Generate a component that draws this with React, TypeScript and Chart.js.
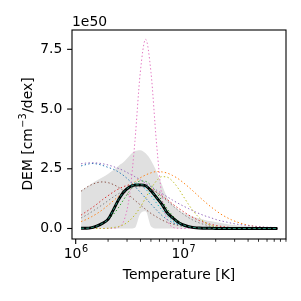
import React, { useEffect, useRef } from "react";
import { Chart, registerables } from "chart.js";

Chart.register(...registerables);

// x grid: log10(Temperature [K])
const logT = [6.05, 6.10, 6.15, 6.20, 6.25, 6.30, 6.35, 6.40, 6.45, 6.50,
  6.55, 6.60, 6.65, 6.70, 6.75, 6.80, 6.85, 6.90, 6.95, 7.00,
  7.05, 7.10, 7.15, 7.20, 7.25, 7.30, 7.35, 7.40, 7.45, 7.50,
  7.55, 7.60, 7.65, 7.70, 7.75, 7.80, 7.875];

// DEM values in units of 1e50 cm^-3/dex
const bandHigh = [1.60, 1.72, 1.88, 2.02, 2.14, 2.28, 2.45, 2.63, 2.80, 3.05,
  3.24, 3.28, 3.15, 2.85, 2.40, 1.85, 1.30, 1.00, 0.80, 0.66,
  0.56, 0.48, 0.42, 0.36, 0.31, 0.27, 0.23, 0.19, 0.16, 0.13,
  0.11, 0.09, 0.07, 0.06, 0.05, 0.04, 0.03];
const bandLow = [0, 0, 0, 0, 0, 0, 0, 0, 0, 0,
  0.03, 0.62, 0.72, 0.08, 0, 0, 0, 0, 0, 0,
  0, 0, 0, 0, 0, 0, 0, 0, 0, 0,
  0, 0, 0, 0, 0, 0, 0];
const meanDem = [0.01, 0.01, 0.04, 0.11, 0.22, 0.38, 0.78, 1.22, 1.55, 1.74,
  1.82, 1.83, 1.79, 1.58, 1.30, 1.02, 0.66, 0.45, 0.27, 0.15,
  0.08, 0.04, 0.02, 0.01, 0.01, 0, 0, 0, 0, 0,
  0, 0, 0, 0, 0, 0, 0];
const fitDem = [0.01, 0.01, 0.04, 0.11, 0.22, 0.38, 0.78, 1.22, 1.55, 1.74,
  1.82, 1.83, 1.79, 1.58, 1.30, 1.02, 0.66, 0.45, 0.27, 0.15,
  0.08, 0.04, 0.02, 0.01, 0.01, 0, 0, 0, 0, 0,
  0, 0, 0, 0, 0, 0, 0];

const sampleBlue = [2.62, 2.68, 2.72, 2.70, 2.64, 2.56, 2.48, 2.36, 2.20, 2.00,
  1.76, 1.52, 1.27, 1.02, 0.78, 0.55, 0.38, 0.25, 0.16, 0.10,
  0.06, 0.04, 0.02, 0.01, 0.01, 0, 0, 0, 0, 0,
  0, 0, 0, 0, 0, 0, 0];
const sampleOrange = [0.29, 0.38, 0.50, 0.63, 0.79, 0.97, 1.16, 1.36, 1.57, 1.77,
  1.95, 2.12, 2.24, 2.33, 2.38, 2.37, 2.32, 2.22, 2.09, 1.92,
  1.73, 1.53, 1.32, 1.12, 0.93, 0.76, 0.60, 0.47, 0.36, 0.27,
  0.20, 0.14, 0.10, 0.07, 0.05, 0.03, 0.02];
const sampleGreen = [0.01, 0.02, 0.05, 0.11, 0.20, 0.36, 0.59, 0.89, 1.24, 1.57,
  1.84, 1.99, 1.97, 1.80, 1.51, 1.17, 0.83, 0.54, 0.33, 0.18,
  0.09, 0.04, 0.02, 0.01, 0, 0, 0, 0, 0, 0,
  0, 0, 0, 0, 0, 0, 0];
const sampleRed = [0.56, 0.71, 0.86, 1.03, 1.21, 1.37, 1.53, 1.66, 1.76, 1.83,
  1.85, 1.83, 1.76, 1.66, 1.53, 1.37, 1.21, 1.03, 0.86, 0.71,
  0.56, 0.44, 0.33, 0.25, 0.18, 0.13, 0.09, 0.06, 0.04, 0.03,
  0.02, 0.01, 0.01, 0, 0, 0, 0];
const samplePurple = [2.71, 2.74, 2.75, 2.74, 2.71, 2.66, 2.59, 2.51, 2.41, 2.29,
  2.17, 2.04, 1.90, 1.75, 1.61, 1.47, 1.33, 1.19, 1.06, 0.94,
  0.83, 0.72, 0.62, 0.53, 0.46, 0.38, 0.32, 0.27, 0.22, 0.18,
  0.15, 0.12, 0.10, 0.08, 0.06, 0.05, 0.04];
const sampleBrown = [1.56, 1.72, 1.84, 1.92, 1.95, 1.92, 1.84, 1.72, 1.56, 1.38,
  1.18, 0.99, 0.80, 0.63, 0.49, 0.36, 0.26, 0.19, 0.13, 0.09,
  0.06, 0.04, 0.02, 0.01, 0, 0, 0, 0, 0, 0,
  0, 0, 0, 0, 0, 0, 0];
const samplePink = [0, 0, 0, 0, 0, 0, 0.01, 0.06, 0.35, 1.37,
  3.63, 6.52, 7.92, 6.52, 3.63, 1.37, 0.35, 0.06, 0.01, 0,
  0, 0, 0, 0, 0, 0, 0, 0, 0, 0,
  0, 0, 0, 0, 0, 0, 0];
const sampleGray = [0.44, 0.56, 0.70, 0.85, 1.00, 1.16, 1.32, 1.46, 1.58, 1.67,
  1.73, 1.75, 1.72, 1.64, 1.51, 1.34, 1.15, 0.96, 0.77, 0.60,
  0.45, 0.33, 0.23, 0.16, 0.10, 0.07, 0.04, 0.02, 0.01, 0.01,
  0, 0, 0, 0, 0, 0, 0];
const sampleOlive = [0, 0, 0, 0, 0, 0.01, 0.04, 0.08, 0.17, 0.33,
  0.57, 0.89, 1.28, 1.67, 1.99, 2.17, 2.15, 1.98, 1.70, 1.35,
  1.00, 0.69, 0.44, 0.26, 0.14, 0.07, 0.03, 0.01, 0, 0,
  0, 0, 0, 0, 0, 0, 0];
const sampleCyan = [0.01, 0.02, 0.05, 0.11, 0.23, 0.44, 0.75, 1.13, 1.50, 1.79,
  1.90, 1.83, 1.65, 1.38, 1.07, 0.78, 0.53, 0.33, 0.19, 0.11,
  0.05, 0.03, 0.01, 0, 0, 0, 0, 0, 0, 0,
  0, 0, 0, 0, 0, 0, 0];

const samples = [sampleBlue, sampleOrange, sampleGreen, sampleRed, samplePurple,
  sampleBrown, samplePink, sampleGray, sampleOlive, sampleCyan];
const sampleColors = ["#1f77b4", "#ff7f0e", "#2ca02c", "#d62728", "#9467bd",
  "#8c564b", "#e377c2", "#7f7f7f", "#bcbd22", "#17becf"];

const yTicks = [0, 2.5, 5.0, 7.5];
const yTickLabels = ["0.0", "2.5", "5.0", "7.5"];
const xMajorTicks = [1e6, 1e7];
const xMajorExp = ["6", "7"];
const xMinorTicks = [2e6, 3e6, 4e6, 5e6, 6e6, 7e6, 8e6, 9e6, 2e7, 3e7, 4e7, 5e7, 6e7, 7e7, 8e7, 9e7];
const xTitle = "Temperature [K]";
const offsetText = "1e50";

const FONT = '"DejaVu Sans", sans-serif';

const axesPlugin = {
  id: "mplAxes",
  afterDraw(chart: any) {
    const { ctx, chartArea: a, scales } = chart;
    const xs = scales.x;
    const ys = scales.y;
    ctx.save();
    ctx.strokeStyle = "#000";
    ctx.fillStyle = "#000";
    ctx.lineWidth = 1.1;
    ctx.strokeRect(a.left, a.top, a.right - a.left, a.bottom - a.top);

    const line = (x1: number, y1: number, x2: number, y2: number) => {
      ctx.beginPath();
      ctx.moveTo(x1, y1);
      ctx.lineTo(x2, y2);
      ctx.stroke();
    };

    // y ticks
    ctx.font = `13.9px ${FONT}`;
    ctx.textAlign = "right";
    ctx.textBaseline = "middle";
    yTicks.forEach((v, i) => {
      const y = ys.getPixelForValue(v);
      line(a.left - 4.9, y, a.left, y);
      ctx.fillText(yTickLabels[i], a.left - 9.7, y);
    });

    // x minor ticks
    ctx.lineWidth = 0.8;
    xMinorTicks.forEach((v) => {
      const x = xs.getPixelForValue(v);
      if (x < a.left - 0.5 || x > a.right + 0.5) return;
      line(x, a.bottom, x, a.bottom + 2.8);
    });
    // x major ticks
    ctx.lineWidth = 1.1;
    ctx.textBaseline = "alphabetic";
    ctx.textAlign = "left";
    xMajorTicks.forEach((v, i) => {
      const x = xs.getPixelForValue(v);
      line(x, a.bottom, x, a.bottom + 4.9);
      ctx.font = `13.9px ${FONT}`;
      const w1 = ctx.measureText("10").width;
      ctx.font = `9.7px ${FONT}`;
      const w2 = ctx.measureText(xMajorExp[i]).width;
      const x0 = x - (w1 + w2) / 2;
      ctx.font = `13.9px ${FONT}`;
      ctx.fillText("10", x0, a.bottom + 18.5);
      ctx.font = `9.7px ${FONT}`;
      ctx.fillText(xMajorExp[i], x0 + w1 + 0.5, a.bottom + 12.5);
    });

    // x title
    ctx.font = `13.9px ${FONT}`;
    ctx.textAlign = "center";
    ctx.fillText(xTitle, (a.left + a.right) / 2, a.bottom + 39.5);

    // offset text
    ctx.textAlign = "left";
    ctx.fillText(offsetText, a.left, a.top - 4.5);

    // y title (rotated) : DEM [cm^-3/dex]
    ctx.save();
    ctx.translate(31.5, (a.top + a.bottom) / 2);
    ctx.rotate(-Math.PI / 2);
    ctx.font = `13.9px ${FONT}`;
    const p1 = "DEM [cm";
    const p3 = "/dex]";
    const w1 = ctx.measureText(p1).width;
    const w3 = ctx.measureText(p3).width;
    ctx.font = `9.7px ${FONT}`;
    const p2 = "\u22123";
    const w2 = ctx.measureText(p2).width;
    const start = -(w1 + w2 + w3) / 2;
    ctx.font = `13.9px ${FONT}`;
    ctx.fillText(p1, start, 0);
    ctx.font = `9.7px ${FONT}`;
    ctx.fillText(p2, start + w1 + 0.5, -5.5);
    ctx.font = `13.9px ${FONT}`;
    ctx.fillText(p3, start + w1 + w2 + 1, 0);
    ctx.restore();

    ctx.restore();
  },
};

export default function App() {
  const ref = useRef<HTMLCanvasElement>(null);

  useEffect(() => {
    document.body.style.margin = "0";
    const T = logT.map((v) => Math.pow(10, v));
    const pts = (ys: number[]) => ys.map((y, i) => ({ x: T[i], y }));

    const datasets: any[] = [];
    datasets.push({
      data: pts(bandHigh),
      borderWidth: 0,
      borderColor: "rgba(0,0,0,0)",
      backgroundColor: "rgb(224,224,224)",
      fill: "+1",
      pointRadius: 0,
      cubicInterpolationMode: "monotone",
      order: 100,
    });
    datasets.push({
      data: pts(bandLow),
      borderWidth: 0,
      borderColor: "rgba(0,0,0,0)",
      fill: false,
      pointRadius: 0,
      cubicInterpolationMode: "monotone",
      order: 99,
    });
    samples.forEach((s, i) => {
      datasets.push({
        data: pts(s),
        borderColor: sampleColors[i],
        borderWidth: 1,
        borderDash: [1.4, 2.3],
        fill: false,
        pointRadius: 0,
        cubicInterpolationMode: "monotone",
        order: 50 - i,
      });
    });
    datasets.push({
      data: pts(meanDem),
      borderColor: "#000000",
      borderWidth: 2.8,
      fill: false,
      pointRadius: 0,
      cubicInterpolationMode: "monotone",
      order: 2,
    });
    datasets.push({
      data: pts(fitDem),
      borderColor: "rgb(40,140,115)",
      borderWidth: 1,
      borderDash: [3, 2],
      fill: false,
      pointRadius: 0,
      cubicInterpolationMode: "monotone",
      order: 1,
    });

    const chart = new Chart(ref.current as HTMLCanvasElement, {
      type: "line",
      data: { datasets },
      options: {
        animation: false,
        responsive: false,
        devicePixelRatio: 1,
        layout: { padding: { left: 72, right: 15, top: 30, bottom: 62 } },
        plugins: {
          legend: { display: false },
          tooltip: { enabled: false },
        },
        scales: {
          x: {
            type: "logarithmic",
            display: false,
            min: Math.pow(10, 5.9656),
            max: Math.pow(10, 7.9545),
          },
          y: {
            type: "linear",
            display: false,
            min: -0.44,
            max: 8.31,
          },
        },
      },
      plugins: [axesPlugin],
    } as any);
    return () => chart.destroy();
  }, []);

  return (
    <canvas
      ref={ref}
      width={301}
      height={301}
      style={{ position: "fixed", left: 0, top: 0, width: 301, height: 301, background: "#fff" }}
    />
  );
}
